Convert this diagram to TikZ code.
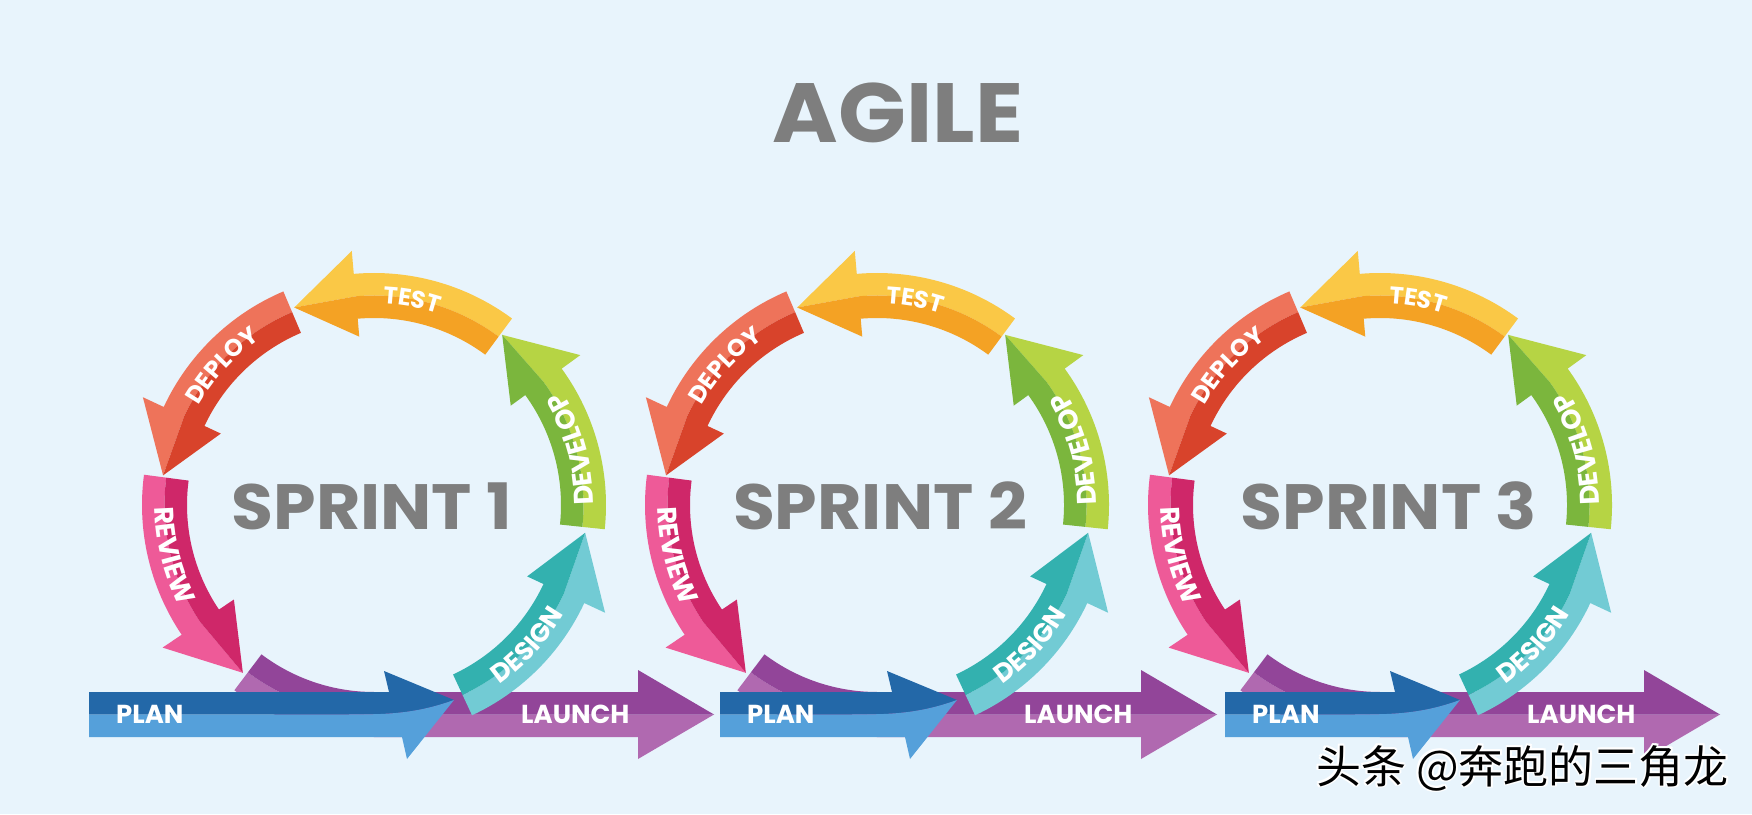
\documentclass[tikz,border=0pt]{standalone}
\usepackage{fontspec}
\usetikzlibrary{decorations.text}
\newfontfamily\pop{Poppins}
\newfontfamily\cjk{Noto Sans CJK SC}
\definecolor{bg}{HTML}{E8F4FC}
\definecolor{gtxt}{HTML}{7E7E7E}
\definecolor{testL}{HTML}{FAC846}
\definecolor{testD}{HTML}{F4A224}
\definecolor{depL}{HTML}{EE735A}
\definecolor{depD}{HTML}{D8432B}
\definecolor{revL}{HTML}{EE5A98}
\definecolor{revD}{HTML}{CF2769}
\definecolor{purL}{HTML}{B069B0}
\definecolor{purD}{HTML}{924599}
\definecolor{plaD}{HTML}{2368A8}
\definecolor{plaL}{HTML}{55A0DA}
\definecolor{desD}{HTML}{33B1AF}
\definecolor{desL}{HTML}{72CBD4}
\definecolor{devD}{HTML}{7BB63D}
\definecolor{devL}{HTML}{B6D444}
\def\rOut{232}
\def\rIn{187}
\def\rMid{209.5}
\def\wOut{255}
\def\wIn{169}
\def\rTip{213}
\newcommand\wmstr{头条 @奔跑的三角龙}
% white halo behind the black watermark, all inside one node
\newcommand\wmhalo{{\color{white}%
  \rlap{\hspace{-1.8pt}\wmstr}\rlap{\hspace{1.8pt}\wmstr}%
  \rlap{\raisebox{1.8pt}{\wmstr}}\rlap{\raisebox{-1.8pt}{\wmstr}}%
  \rlap{\hspace{-1.3pt}\raisebox{1.3pt}{\wmstr}}\rlap{\hspace{1.3pt}\raisebox{1.3pt}{\wmstr}}%
  \rlap{\hspace{-1.3pt}\raisebox{-1.3pt}{\wmstr}}\rlap{\hspace{1.3pt}\raisebox{-1.3pt}{\wmstr}}}%
  \wmstr}
% #1 tail angle, #2 head base angle, #3 tip angle, #4 outer colour, #5 inner colour
\newcommand\ringseg[5]{%
  \fill[#4] (#1:\rOut) arc[start angle=#1,end angle=#2,radius=\rOut] -- (#2:\wOut) -- (#3:\rTip) -- (#2:\rMid) arc[start angle=#2,end angle=#1,radius=\rMid] -- cycle;
  \fill[#5] (#1:\rMid) arc[start angle=#1,end angle=#2,radius=\rMid] -- (#3:\rTip) -- (#2:\wIn) -- (#2:\rIn) arc[start angle=#2,end angle=#1,radius=\rIn] -- cycle;
}
% #1 centre angle, #2 radius, #3 direction (1 ccw, -1 cw), #4 font size, #5 text
\newcommand\arclabel[5]{%
  \path[decorate,decoration={text along path,text={|\pop\bfseries\fontsize{#4}{#4}\selectfont|#5},text align=center,text color=white}]
    ({#1-35*#3}:#2) arc[start angle={#1-35*#3},end angle={#1+35*#3},radius=#2];
}
% #1 centre x, #2 plan start (relative), #3 number, #4 text x offset
\newcommand\sprintunit[4]{%
\begin{scope}[shift={(#1,309)}]
  % launch (purple)
  \fill[purL] (233:\rOut) arc[start angle=233,end angle=270,radius=\rOut] -- (264,-232) -- (264,-254) -- (340,-209.5) -- (264,-209.5) -- (0,-209.5) arc[start angle=270,end angle=233,radius=\rMid] -- cycle;
  \fill[purD] (233:\rMid) arc[start angle=233,end angle=270,radius=\rMid] -- (264,-209.5) -- (340,-209.5) -- (264,-165) -- (264,-187) -- (0,-187) arc[start angle=270,end angle=233,radius=\rIn] -- cycle;
  % plan (blue)
  \fill[plaD] ({#2},-187) -- (15,-187) -- (10,-166) -- (80,-195) .. controls (40,-209.5) and (10,-209.5) .. (-30,-209.5) -- ({#2},-209.5) -- cycle;
  \fill[plaL] ({#2},-209.5) -- (-30,-209.5) .. controls (10,-209.5) and (40,-209.5) .. (80,-195) -- (33,-254) -- (28,-232) -- ({#2},-232) -- cycle;
  % ring
  \ringseg{172.5}{214}{232}{revL}{revD}
  \ringseg{113}{155}{172}{depL}{depD}
  \ringseg{53.5}{95}{112}{testL}{testD}
  \ringseg{354}{396}{413}{devL}{devD}
  \ringseg{295}{335}{352.5}{desL}{desD}
  % labels
  \arclabel{79.5}{201.5}{-1}{24}{TEST}
  \arclabel{137.5}{201.5}{-1}{24}{DEPLOY}
  \arclabel{194}{219}{1}{27}{REVIEW}
  \arclabel{317.5}{219}{1}{26}{DESIGN}
  \arclabel{15.6}{219.5}{1}{27}{DEVELOP}
  \node[bartxt,anchor=west] (plan#3) at ({#2+27},-209.5) {PLAN};
  \node[bartxt,anchor=west] (launch#3) at (147,-209.5) {LAUNCH};
  \node[sprinttxt] (sprint#3) at ({#4},-1) {\scalebox{1.065}[1]{SPRINT #3}};
\end{scope}
}
\begin{document}
\begin{tikzpicture}[x=1pt,y=1pt,
  bartxt/.style={inner sep=0pt,text=white,font=\pop\bfseries\fontsize{26}{26}\selectfont},
  sprinttxt/.style={inner sep=0pt,text=gtxt,font=\pop\bfseries\fontsize{64}{64}\selectfont},
  titletxt/.style={inner sep=0pt,text=gtxt,font=\pop\bfseries\fontsize{84}{84}\selectfont},
  wmtxt/.style={inner sep=0pt,anchor=west,text=black,font=\cjk\fontsize{45}{45}\selectfont}]
\fill[bg] (0,0) rectangle (1752,814);
\useasboundingbox (0,0) rectangle (1752,814);
\node[titletxt] (agile) at (898,701.5) {\scalebox{1.06}[1]{AGILE}};
\sprintunit{374}{-285}{1}{-2}
\sprintunit{877}{-157}{2}{3}
\sprintunit{1380}{-155}{3}{9}
\node[wmtxt] (wm) at (1316,46) {\wmhalo};
\end{tikzpicture}
\end{document}
